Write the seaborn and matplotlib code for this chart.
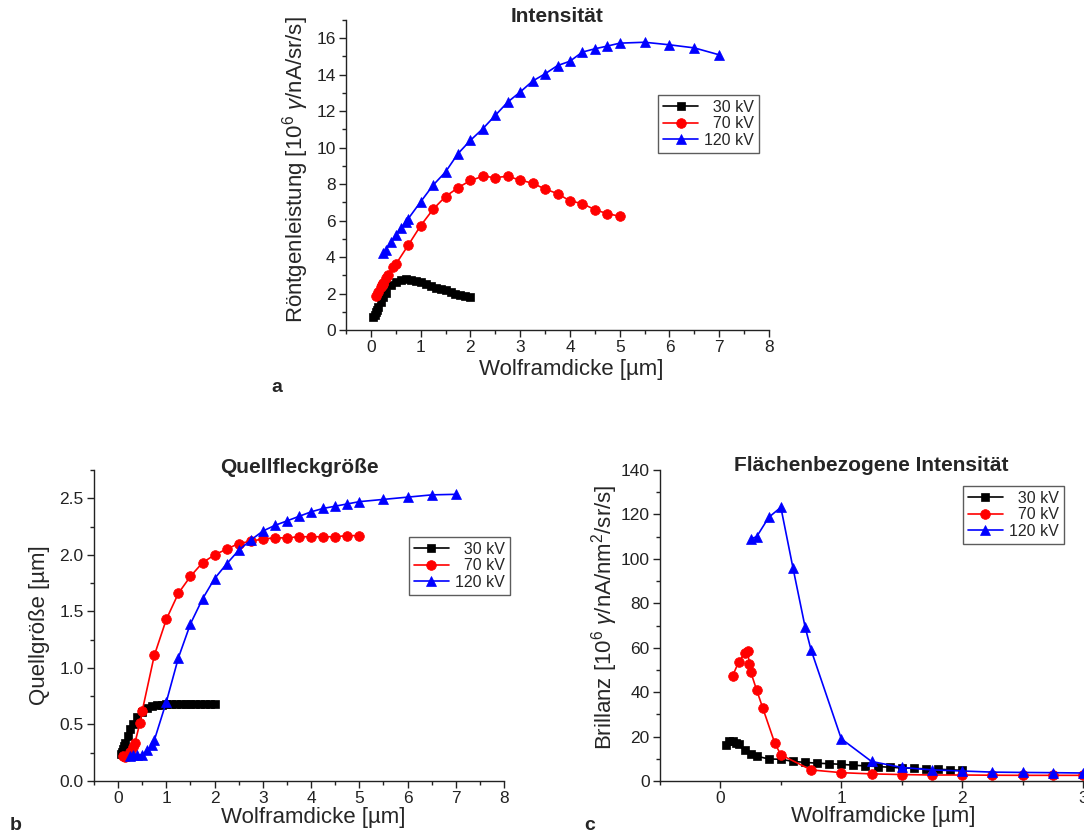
import numpy as np
import pandas as pd
import matplotlib
matplotlib.use("Agg")
import matplotlib.pyplot as plt
from matplotlib.ticker import MultipleLocator
import seaborn as sns

# ---------------- data ----------------
labels = ["\u200730 kV", "\u200770 kV", "120 kV"]
colors = ["#000000", "#ff0000", "#0000ff"]
markers = ["s", "o", "^"]
msizes = [6, 7, 7.5]

# panel a: Intensität
a_x30 = [0.05, 0.075, 0.1, 0.125, 0.15, 0.2, 0.25, 0.3, 0.4, 0.5, 0.6, 0.7, 0.8, 0.9,
         1.0, 1.1, 1.2, 1.3, 1.4, 1.5, 1.6, 1.7, 1.8, 1.9, 2.0]
a_y30 = [0.7, 0.85, 1.0, 1.1, 1.25, 1.55, 1.8, 2.05, 2.45, 2.65, 2.75, 2.78, 2.75, 2.7,
         2.62, 2.52, 2.42, 2.33, 2.25, 2.17, 2.08, 2.0, 1.92, 1.85, 1.8]
a_x70 = [0.1, 0.15, 0.2, 0.225, 0.24, 0.25, 0.3, 0.35, 0.45, 0.5, 0.75, 1.0, 1.25, 1.5,
         1.75, 2.0, 2.25, 2.5, 2.75, 3.0, 3.25, 3.5, 3.75, 4.0, 4.25, 4.5, 4.75, 5.0]
a_y70 = [1.85, 2.1, 2.35, 2.45, 2.55, 2.6, 2.85, 3.0, 3.45, 3.6, 4.65, 5.72, 6.62, 7.32,
         7.8, 8.2, 8.43, 8.36, 8.43, 8.22, 8.05, 7.73, 7.48, 7.08, 6.93, 6.6, 6.38, 6.24]
a_x120 = [0.25, 0.3, 0.4, 0.5, 0.6, 0.7, 0.75, 1.0, 1.25, 1.5, 1.75, 2.0, 2.25, 2.5,
          2.75, 3.0, 3.25, 3.5, 3.75, 4.0, 4.25, 4.5, 4.75, 5.0, 5.5, 6.0, 6.5, 7.0]
a_y120 = [4.2, 4.4, 4.8, 5.2, 5.6, 5.9, 6.1, 7.03, 7.94, 8.67, 9.67, 10.4, 11.04, 11.77,
          12.5, 13.05, 13.65, 14.05, 14.5, 14.74, 15.24, 15.42, 15.57, 15.73, 15.78, 15.64,
          15.47, 15.09]

# panel b: Quellfleckgröße
b_x30 = a_x30
b_y30 = [0.24, 0.26, 0.28, 0.31, 0.34, 0.40, 0.46, 0.50, 0.57, 0.61, 0.645, 0.66, 0.67,
         0.675, 0.68, 0.68, 0.68, 0.68, 0.68, 0.68, 0.68, 0.68, 0.685, 0.685, 0.685]
b_x70 = a_x70
b_y70 = [0.22, 0.21, 0.22, 0.23, 0.24, 0.26, 0.30, 0.34, 0.51, 0.62, 1.11, 1.43, 1.66,
         1.81, 1.93, 2.0, 2.05, 2.10, 2.12, 2.14, 2.15, 2.15, 2.16, 2.16, 2.16, 2.16,
         2.17, 2.17]
b_x120 = a_x120
b_y120 = [0.22, 0.23, 0.23, 0.23, 0.27, 0.32, 0.36, 0.70, 1.09, 1.39, 1.61, 1.79, 1.92,
          2.04, 2.13, 2.21, 2.26, 2.30, 2.34, 2.38, 2.41, 2.43, 2.45, 2.47, 2.49, 2.51,
          2.53, 2.535]

# panel c: Flächenbezogene Intensität
c_x30 = a_x30
c_y30 = [16.2, 18.2, 18.0, 17.3, 16.5, 14.0, 12.0, 11.2, 9.9, 9.8, 8.8, 8.4, 8.0, 7.8,
         7.5, 7.1, 6.8, 6.5, 6.2, 5.9, 5.7, 5.45, 5.3, 5.05, 4.8]
c_x70 = [0.1, 0.15, 0.2, 0.225, 0.24, 0.25, 0.3, 0.35, 0.45, 0.5, 0.75, 1.0, 1.25, 1.5,
         1.75, 2.0, 2.25, 2.5, 2.75, 3.0]
c_y70 = [47.3, 53.4, 57.5, 58.3, 52.6, 49.2, 40.9, 32.9, 17.0, 11.8, 5.0, 3.75, 3.2, 2.9,
         2.7, 2.7, 2.6, 2.55, 2.55, 2.55]
c_x120 = [0.25, 0.3, 0.4, 0.5, 0.6, 0.7, 0.75, 1.0, 1.25, 1.5, 1.75, 2.0, 2.25, 2.5,
          2.75, 3.0]
c_y120 = [109, 110, 118.7, 123.2, 96, 69.5, 59, 19, 8.8, 6.1, 5.0, 4.5, 4.0, 3.85, 3.75,
          3.6]

titles = ["Intensität", "Quellfleckgröße", "Flächenbezogene Intensität"]
xlabel = "Wolframdicke [µm]"
ylabels = [r"Röntgenleistung [10$^6$ $\gamma$/nA/sr/s]",
           "Quellgröße [µm]",
           r"Brillanz [10$^6$ $\gamma$/nA/nm$^2$/sr/s]"]
panel_letters = ["a", "b", "c"]

# ---------------- style ----------------
sns.set_style("ticks")
plt.rcParams["font.family"] = ["Liberation Sans", "DejaVu Sans"]
plt.rcParams["mathtext.fontset"] = "custom"
plt.rcParams["mathtext.rm"] = "Liberation Sans"
plt.rcParams["mathtext.it"] = "Liberation Sans:italic"
plt.rcParams["mathtext.bf"] = "Liberation Sans:bold"

W, H = 1084, 836
fig = plt.figure(figsize=(W / 100, H / 100), dpi=100)


def px_axes(left, top, right, bottom):
    return fig.add_axes([left / W, 1 - bottom / H, (right - left) / W, (bottom - top) / H])


axA = px_axes(346, 20, 769, 330)
axB = px_axes(94, 470, 504, 781)
axC = px_axes(660, 470, 1083, 781)

series = {
    axA: [(a_x30, a_y30), (a_x70, a_y70), (a_x120, a_y120)],
    axB: [(b_x30, b_y30), (b_x70, b_y70), (b_x120, b_y120)],
    axC: [(c_x30, c_y30), (c_x70, c_y70), (c_x120, c_y120)],
}

for ax, ser in series.items():
    for (xs, ys), lab, col, mk, ms in zip(ser, labels, colors, markers, msizes):
        df = pd.DataFrame({"x": xs, "y": ys})
        sns.lineplot(data=df, x="x", y="y", ax=ax, color=col, marker=mk, markersize=ms,
                     markeredgecolor=col, markeredgewidth=0.5, linewidth=1.2,
                     label=lab, estimator=None, sort=False)

# limits & ticks
axA.set_xlim(-0.5, 8); axA.set_ylim(0, 17)
axA.xaxis.set_major_locator(MultipleLocator(1)); axA.xaxis.set_minor_locator(MultipleLocator(0.5))
axA.yaxis.set_major_locator(MultipleLocator(2)); axA.yaxis.set_minor_locator(MultipleLocator(1))

axB.set_xlim(-0.5, 8); axB.set_ylim(0, 2.75)
axB.xaxis.set_major_locator(MultipleLocator(1)); axB.xaxis.set_minor_locator(MultipleLocator(0.5))
axB.yaxis.set_major_locator(MultipleLocator(0.5)); axB.yaxis.set_minor_locator(MultipleLocator(0.25))

axC.set_xlim(-0.5, 3); axC.set_ylim(0, 140)
axC.xaxis.set_major_locator(MultipleLocator(1)); axC.xaxis.set_minor_locator(MultipleLocator(0.5))
axC.yaxis.set_major_locator(MultipleLocator(20)); axC.yaxis.set_minor_locator(MultipleLocator(10))

legend_pos = {axA: (0.738, 0.758), axB: (0.768, 0.785), axC: (0.716, 0.949)}
title_y = {axA: 1 + 4.0 / 310, axB: 1 + 3.0 / 311, axC: 1 + 4.0 / 311}
xlab_pos = {axA: (0.532, -0.127), axB: (0.534, -0.117), axC: (0.527, -0.114)}
ylab_pos = {axA: (-0.12, 0.516), axB: (-0.132, 0.5), axC: (-0.13, 0.527)}

for ax, title, ylab in zip([axA, axB, axC], titles, ylabels):
    sns.despine(ax=ax)
    for s in ["left", "bottom"]:
        ax.spines[s].set_linewidth(1.0)
        ax.spines[s].set_color("#222222")
    ax.tick_params(which="major", direction="out", length=5, width=1.0, labelsize=12.5,
                   colors="#222222", pad=2.5)
    ax.tick_params(which="minor", direction="out", length=3, width=1.0, colors="#222222")
    ax.set_xlabel(xlabel, fontsize=16, va="center")
    ax.set_ylabel(ylab, fontsize=16, va="center")
    ax.xaxis.set_label_coords(*xlab_pos[ax])
    ax.yaxis.set_label_coords(*ylab_pos[ax])
    ax.text(0.5, title_y[ax], title, transform=ax.transAxes, ha="center", va="center",
            fontsize=15, fontweight="bold")
    leg = ax.legend(loc="upper left", bbox_to_anchor=legend_pos[ax], borderaxespad=0,
                    fontsize=11.5, frameon=True, fancybox=False, handlelength=2.2,
                    handletextpad=0.4, labelspacing=0.1, borderpad=0.3,
                    markerscale=1.0)
    leg.get_frame().set_edgecolor("#333333")
    leg.get_frame().set_linewidth(1.0)

for (px, py), letter in zip([(277, 387), (16, 826), (590, 826)], panel_letters):
    fig.text(px / W, 1 - py / H, letter, ha="center", va="center", fontsize=14,
             fontweight="bold")

fig.savefig("out.png", dpi=100)
